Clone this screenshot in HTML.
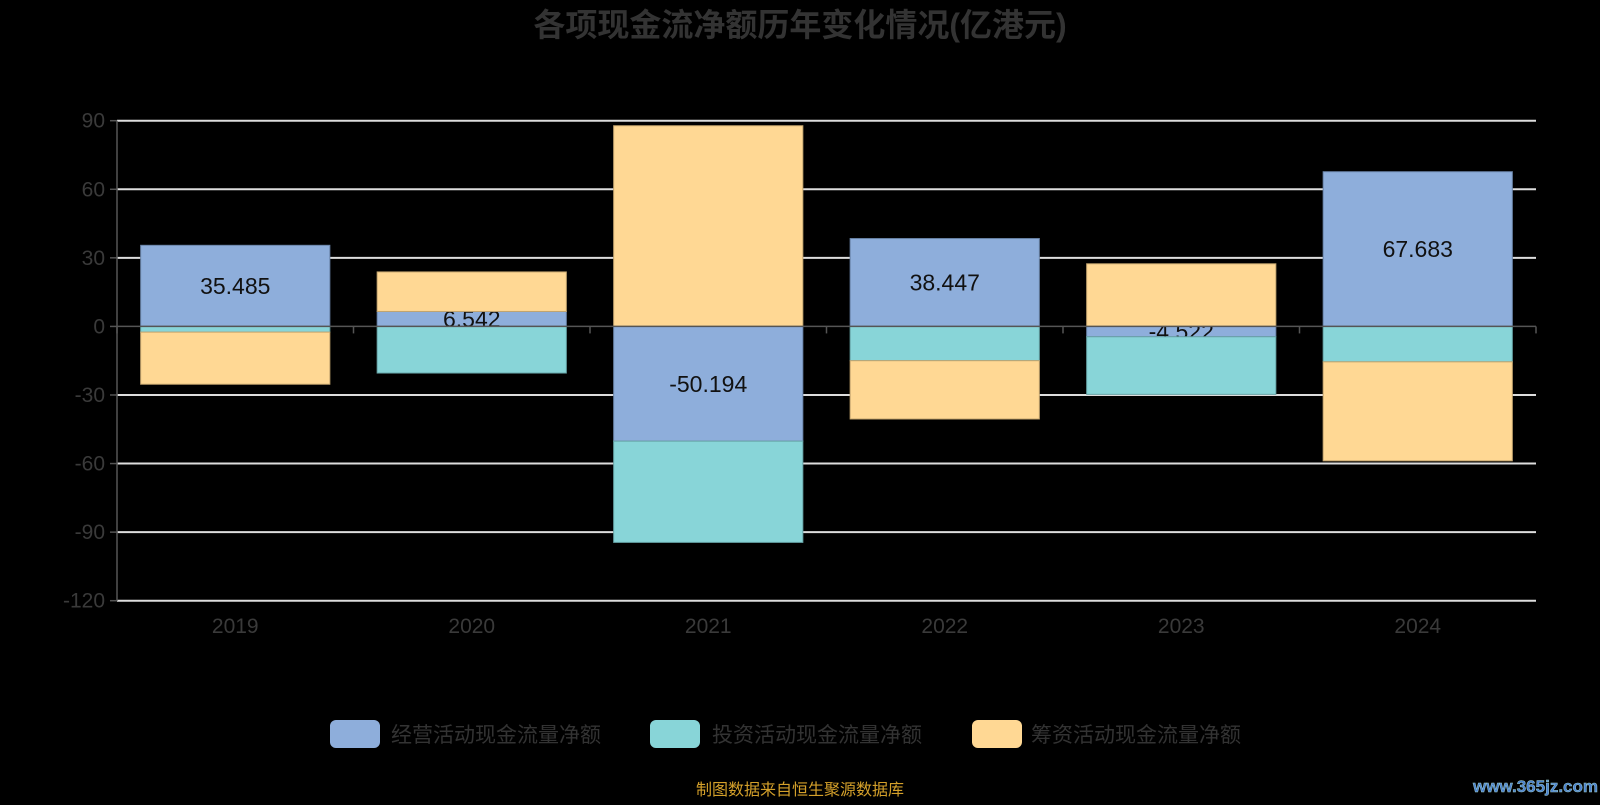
<!DOCTYPE html>
<html><head><meta charset="utf-8"><style>
body{margin:0;background:#000;width:1600px;height:800px;overflow:hidden;font-family:"Liberation Sans","Noto Sans CJK SC",sans-serif}
svg text{font-family:"Liberation Sans","Noto Sans CJK SC",sans-serif}
</style></head><body>
<svg id="chart" width="1600" height="800" xmlns="http://www.w3.org/2000/svg">
<text x="800" y="36" text-anchor="middle" font-size="32" font-weight="bold" fill="#333">各项现金流净额历年变化情况(亿港元)</text>
<g id="grid"></g><g id="bars"></g><g id="axes"></g>
<g>
<g><rect x="330" y="720" width="50" height="28" rx="6" fill="#8eaedb"/><text x="391" y="742" font-size="21" fill="#333">经营活动现金流量净额</text></g>
<g><rect x="650" y="720" width="50" height="28" rx="6" fill="#88d5d8"/><text x="712" y="742" font-size="21" fill="#333">投资活动现金流量净额</text></g>
<g><rect x="972" y="720" width="50" height="28" rx="6" fill="#ffd894"/><text x="1031" y="742" font-size="21" fill="#333">筹资活动现金流量净额</text></g>
</g>
<text x="800" y="795" text-anchor="middle" font-size="16" fill="#d4a02a">制图数据来自恒生聚源数据库</text>
<text x="1598" y="792" text-anchor="end" font-size="17" font-weight="bold" fill="#4a7fd0" stroke="#9cc" stroke-width="0.5">www.365jz.com</text>
</svg>
<script>
const categories=["2019","2020","2021","2022","2023","2024"];
const operating=[35.485,6.542,-50.194,38.447,-4.522,67.683];
const investing=[-2.5,-20.4,-44.3,-15.0,-25.2,-15.5];
const financing=[-22.8,17.3,87.8,-25.5,27.4,-43.3];
const yTicks=[90,60,30,0,-30,-60,-90,-120];
const NS="http://www.w3.org/2000/svg";
const X0=117,X1=1536,Y90=120.7,Ym120=600.7;
const yMax=90,yMin=-120;
function y(v){return Y90+(yMax-v)*(Ym120-Y90)/(yMax-yMin);}
const band=(X1-X0)/categories.length;
function xc(i){return X0+band*(i+0.5);}
function mk(tag,attrs,parent){const e=document.createElementNS(NS,tag);for(const k in attrs)e.setAttribute(k,attrs[k]);parent.appendChild(e);return e;}
const grid=document.getElementById('grid'),bars=document.getElementById('bars'),axes=document.getElementById('axes');
yTicks.forEach(t=>{
 if(t!==0){const l=mk('line',{x1:X0,x2:X1,y1:y(t),y2:y(t),stroke:'#ddd','stroke-width':2},grid);
 
 }
 const tk=mk('line',{x1:X0-7,x2:X0,y1:y(t),y2:y(t),stroke:'#555','stroke-width':1.5},axes);
 
 
 const tx=mk('text',{x:X0-12,y:y(t)+7,'text-anchor':'end','font-size':21,fill:'#3a3a3a'},axes);
 tx.textContent=t;
 
 
});
const series=[{d:operating,c:'#8eaedb',s:'#6a84a8',n:'operating'},{d:investing,c:'#88d5d8',s:'#66a3a6',n:'investing'},{d:financing,c:'#ffd894',s:'#c4a56e',n:'financing'}];
const bw=band*0.8;
categories.forEach((cat,i)=>{
 let pos=0,neg=0;
 series.forEach(s=>{
  const v=s.d[i];let a,b;
  if(v>=0){a=pos;b=pos+v;pos=b;}else{a=neg;b=neg+v;neg=b;}
  const r=mk('rect',{x:xc(i)-bw/2,y:Math.min(y(a),y(b)),width:bw,height:Math.abs(y(a)-y(b)),fill:s.c,stroke:s.s,'stroke-width':1},bars);
  
  
  if(s.n==='operating'){
   const t=mk('text',{x:xc(i),y:(y(a)+y(b))/2+8,'text-anchor':'middle','font-size':23,fill:'#111'},bars);
   t.textContent=v.toFixed(3);
   
   
  }
 });
 const xl=mk('text',{x:xc(i),y:633,'text-anchor':'middle','font-size':21,fill:'#3a3a3a'},axes);
 xl.textContent=cat;
 
 
});
const ya=mk('line',{x1:X0,x2:X0,y1:Y90,y2:Ym120,stroke:'#555','stroke-width':1.5},axes);


const xa=mk('line',{x1:X0,x2:X1,y1:y(0),y2:y(0),stroke:'#555','stroke-width':1.5},axes);


for(let i=0;i<=categories.length;i++){
 const t=mk('line',{x1:X0+band*i,x2:X0+band*i,y1:y(0),y2:y(0)+7,stroke:'#555','stroke-width':1.5},axes);
 
 
}
</script>
</body></html>
